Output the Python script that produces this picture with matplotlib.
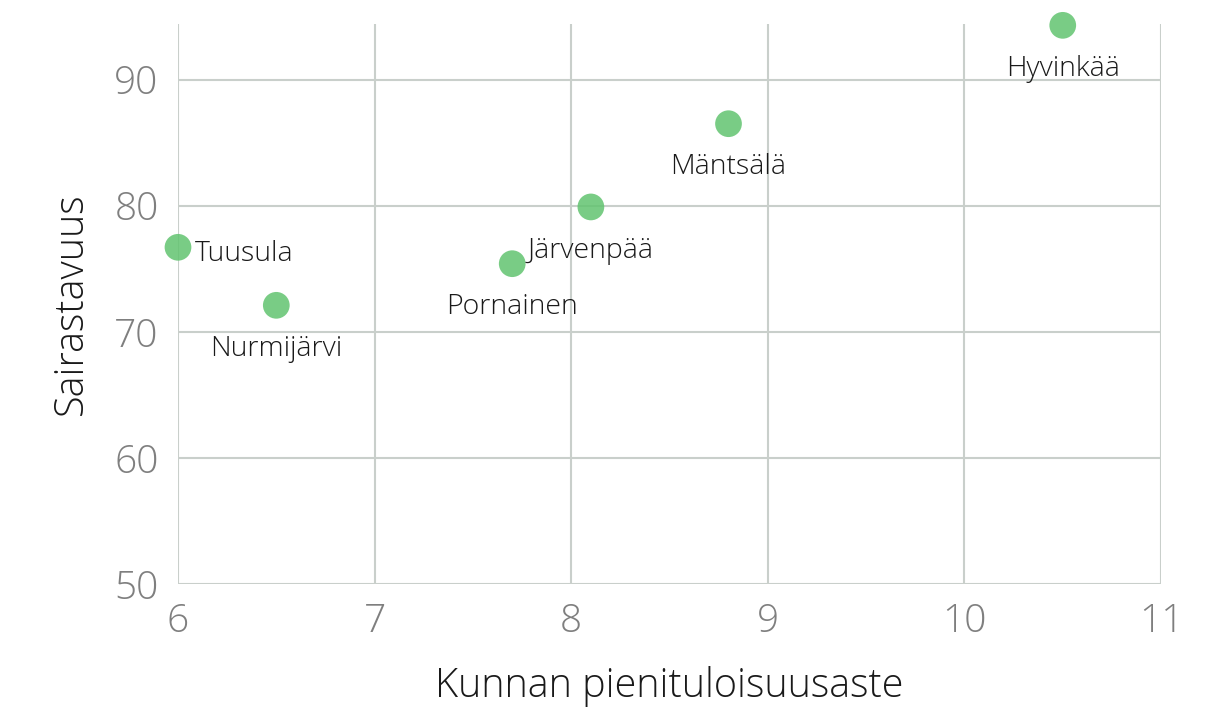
import matplotlib.pyplot as plt

# data
kunnat = ['Tuusula', 'Nurmijärvi', 'Pornainen', 'Järvenpää', 'Mäntsälä', 'Hyvinkää']
pienituloisuus = [6.0, 6.5, 7.7, 8.1, 8.8, 10.5]
sairastavuus = [76.7, 72.1, 75.4, 79.9, 86.5, 94.3]

x_ticks = [6, 7, 8, 9, 10, 11]
y_ticks = [50, 60, 70, 80, 90]

plt.rcParams['font.family'] = ['Open Sans', 'DejaVu Sans']

fig = plt.figure(figsize=(12.25, 7.08), dpi=100)
ax = fig.add_axes([0.1453, 0.1751, 0.8025, 0.7909])

grid_color = '#c9cfcb'
ax.scatter(pienituloisuus, sairastavuus, s=370, color='#62c470', alpha=0.85,
           edgecolors='none', zorder=3, clip_on=False)

# point labels (Tuusula on the right, others below)
for name, xv, yv in zip(kunnat, pienituloisuus, sairastavuus):
  if name == 'Tuusula':
    ax.annotate(name, (xv, yv), xytext=(12, -5), textcoords='offset points',
                ha='left', va='center', fontsize=20.5, fontweight='light', color='#1a1a1a')
  else:
    ax.annotate(name, (xv, yv), xytext=(0, -31.5), textcoords='offset points',
                ha='center', va='center', fontsize=20.5, fontweight='light', color='#1a1a1a')

ax.set_xlim(6, 11)
ax.set_ylim(50, 94.4)
ax.set_xticks(x_ticks)
ax.set_yticks(y_ticks)
ax.grid(True, color=grid_color, linewidth=1.5)
ax.set_axisbelow(True)
for s in ax.spines.values():
  s.set_visible(False)
ax.tick_params(length=0, labelsize=28, labelcolor='#7f7f7f')
ax.tick_params(axis='x', pad=13)
ax.tick_params(axis='y', pad=14)
for lbl in ax.get_xticklabels() + ax.get_yticklabels():
  lbl.set_fontweight('light')

ax.set_xlabel('Kunnan pienituloisuusaste', fontsize=28.5, fontweight='light', color='#1a1a1a', labelpad=18)
ax.set_ylabel('Sairastavuus', fontsize=28.5, fontweight='light', color='#1a1a1a', labelpad=16)

fig.savefig('out.png', dpi=100)
